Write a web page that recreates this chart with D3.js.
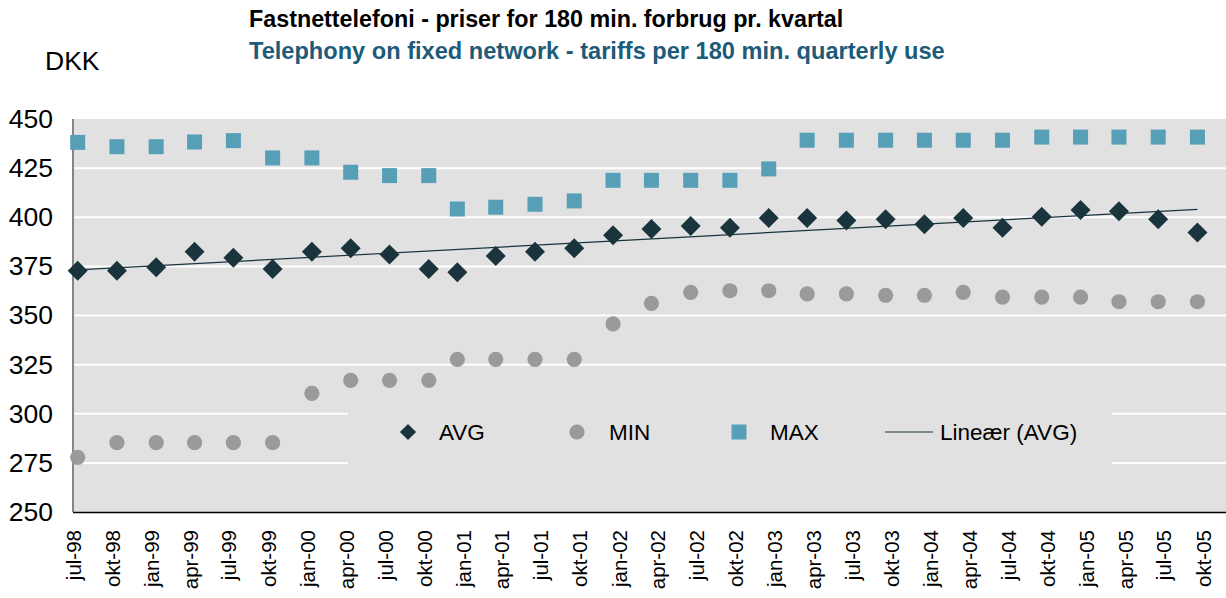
<!DOCTYPE html>
<meta charset="utf-8">
<head>
<style type='text/css'>
  body {
    margin: 0;
    background: #fff;
    font-family: 'Liberation Sans', Arial, sans-serif;
  }
  .grid line {
    stroke: #fff;
    stroke-width: 2;
  }
  .axis .domain {
    display: none;
  }
  .axis .tick line {
    display: none;
  }
</style>
</head>
<body>
<svg id="chart" width="1226" height="598"></svg>
<script src="https://d3js.org/d3.v7.min.js"></script>
<script>
// quarter labels on the x axis
var labels = ["jul-98", "okt-98", "jan-99", "apr-99", "jul-99", "okt-99", "jan-00", "apr-00", "jul-00", "okt-00",
  "jan-01", "apr-01", "jul-01", "okt-01", "jan-02", "apr-02", "jul-02", "okt-02", "jan-03", "apr-03",
  "jul-03", "okt-03", "jan-04", "apr-04", "jul-04", "okt-04", "jan-05", "apr-05", "jul-05", "okt-05"];

// dates the labels stand for
var tickDates = ["1998-07-01", "1998-10-01", "1999-01-01", "1999-04-01", "1999-07-01", "1999-10-01", "2000-01-01", "2000-04-01", "2000-07-01", "2000-10-01",
  "2001-01-01", "2001-04-01", "2001-07-01", "2001-10-01", "2002-01-01", "2002-04-01", "2002-07-01", "2002-10-01", "2003-01-01", "2003-04-01",
  "2003-07-01", "2003-10-01", "2004-01-01", "2004-04-01", "2004-07-01", "2004-10-01", "2005-01-01", "2005-04-01", "2005-07-01", "2005-10-01"];

// measurement dates of the points (date axis, not exactly on the quarters)
var pointDates = ["1998-07-12", "1998-10-12", "1999-01-12", "1999-04-12", "1999-07-12", "1999-10-12", "2000-01-12", "2000-04-12", "2000-07-12", "2000-10-12",
  "2000-12-18", "2001-03-18", "2001-06-18", "2001-09-18", "2001-12-18", "2002-03-18", "2002-06-18", "2002-09-18", "2002-12-18", "2003-03-18",
  "2003-06-18", "2003-09-18", "2003-12-18", "2004-03-18", "2004-06-18", "2004-09-18", "2004-12-18", "2005-03-18", "2005-06-18", "2005-09-18"];

var avgValues = [372.8, 372.8, 374.5, 382.5, 379.4, 373.7, 382.5, 384.2, 381, 373.7,
  372, 380.3, 382.5, 384.2, 390.8, 394, 395.5, 394.7, 399.6, 399.6,
  398.3, 399, 396.4, 399.6, 394.7, 400.3, 403.7, 403, 399, 392.3];

var minValues = [277.8, 285.3, 285.3, 285.3, 285.3, 285.3, 310.4, 317, 317, 317,
  327.7, 327.7, 327.7, 327.7, 345.7, 356.2, 361.8, 362.6, 362.6, 361,
  361, 360.3, 360.3, 361.8, 359.4, 359.4, 359.4, 357, 357, 357];

var maxValues = [438.1, 435.9, 435.9, 438.3, 439, 430.2, 430.2, 422.9, 421.2, 421.2,
  404.2, 405.1, 406.6, 408.3, 418.8, 418.8, 418.8, 418.8, 424.6, 439.2,
  439.2, 439.2, 439.2, 439.2, 439.2, 440.8, 440.8, 440.8, 440.8, 440.8];

var yTicks = [250, 275, 300, 325, 350, 375, 400, 425, 450];

var legendNames = ["AVG", "MIN", "MAX", "Lineær (AVG)"];

var parse = d3.timeParse("%Y-%m-%d");

var svg = d3.select("#chart");

var plot = {left: 73, right: 1226, top: 119, bottom: 512};

var x = d3.scaleTime()
    .domain([parse(tickDates[0]), parse(tickDates[tickDates.length - 1])])
    .range([73, 1203]);

var y = d3.scaleLinear()
    .domain([250, 450])
    .range([plot.bottom, plot.top]);

// titles
svg.append("text")
    .attr("x", 249).attr("y", 27)
    .attr("font-size", "23.3px").attr("font-weight", "bold")
    .attr("fill", "#000")
    .text("Fastnettelefoni - priser for 180 min. forbrug pr. kvartal");

svg.append("text")
    .attr("x", 249).attr("y", 59)
    .attr("font-size", "23.6px").attr("font-weight", "bold")
    .attr("fill", "#1d5b78")
    .text("Telephony on fixed network - tariffs per 180 min. quarterly use");

svg.append("text")
    .attr("x", 45).attr("y", 70)
    .attr("font-size", "26.5px")
    .attr("fill", "#000")
    .text("DKK");

// plot background
svg.append("rect")
    .attr("x", plot.left).attr("y", plot.top)
    .attr("width", plot.right - plot.left)
    .attr("height", plot.bottom - plot.top)
    .attr("fill", "#e1e1e1");

// horizontal gridlines
svg.append("g")
    .attr("class", "grid")
  .selectAll("line")
    .data(yTicks.slice(1, -1))
  .enter().append("line")
    .attr("x1", plot.left).attr("x2", plot.right)
    .attr("y1", function(d) { return y(d); })
    .attr("y2", function(d) { return y(d); });

// legend box covers the gridlines
var legendBox = svg.append("g");
legendBox.append("rect")
    .attr("x", 348).attr("y", 395)
    .attr("width", 1112 - 348).attr("height", 75)
    .attr("fill", "#e1e1e1");

// axis lines
svg.append("line")
    .attr("x1", plot.left).attr("x2", plot.left)
    .attr("y1", plot.top).attr("y2", plot.bottom)
    .attr("stroke", "#858585").attr("stroke-width", 2);

svg.append("line")
    .attr("x1", plot.left).attr("x2", plot.right)
    .attr("y1", plot.bottom + 0.5).attr("y2", plot.bottom + 0.5)
    .attr("stroke", "#000").attr("stroke-width", 1.5);

// y axis labels
svg.append("g")
    .attr("class", "axis")
    .attr("transform", "translate(" + (plot.left - 20) + ",0)")
    .call(d3.axisLeft(y).tickValues(yTicks).tickSize(0).tickPadding(0))
    .call(function(g) {
      g.selectAll("text")
        .attr("font-family", "'Liberation Sans', Arial, sans-serif")
        .attr("font-size", "26.5px")
        .attr("fill", "#000");
    });

// x axis labels, rotated
svg.append("g")
    .attr("class", "axis")
    .attr("transform", "translate(0," + plot.bottom + ")")
    .call(d3.axisBottom(x)
      .tickValues(tickDates.map(parse))
      .tickFormat(function(d, i) { return labels[i]; })
      .tickSize(0))
    .call(function(g) {
      g.selectAll("text")
        .attr("font-family", "'Liberation Sans', Arial, sans-serif")
        .attr("font-size", "20.5px")
        .attr("fill", "#000")
        .attr("text-anchor", "end")
        .attr("transform", "rotate(-90)")
        .attr("x", -18)
        .attr("y", 0)
        .attr("dy", "0.35em");
    });

// build rows
var rows = pointDates.map(function(d, i) {
  return {date: parse(d), avg: avgValues[i], min: minValues[i], max: maxValues[i]};
});

// linear trend on AVG (least squares against date)
var xs = rows.map(function(d) { return +d.date; });
var mx = d3.mean(xs), my = d3.mean(avgValues);
var sxy = 0, sxx = 0;
rows.forEach(function(d) {
  sxy += (+d.date - mx) * (d.avg - my);
  sxx += (+d.date - mx) * (+d.date - mx);
});
var slope = sxy / sxx, intercept = my - slope * mx;
var trendEnds = [rows[0].date, rows[rows.length - 1].date];

var colAvg = "#1a343d", colMin = "#9a9a9a", colMax = "#579fb6";

// MIN circles
svg.append("g")
  .selectAll("circle")
    .data(rows)
  .enter().append("circle")
    .attr("cx", function(d) { return x(d.date); })
    .attr("cy", function(d) { return y(d.min); })
    .attr("r", 7.6)
    .attr("fill", colMin);

// MAX squares
svg.append("g")
  .selectAll("rect")
    .data(rows)
  .enter().append("rect")
    .attr("x", function(d) { return x(d.date) - 7.5; })
    .attr("y", function(d) { return y(d.max) - 7.5; })
    .attr("width", 15).attr("height", 15)
    .attr("fill", colMax);

// AVG diamonds
var diamond = d3.symbol().type(d3.symbolSquare).size(200);
svg.append("g")
  .selectAll("path")
    .data(rows)
  .enter().append("path")
    .attr("d", diamond)
    .attr("transform", function(d) { return "translate(" + x(d.date) + "," + y(d.avg) + ") rotate(45)"; })
    .attr("fill", colAvg);

// trend line
svg.append("line")
    .attr("x1", x(trendEnds[0])).attr("x2", x(trendEnds[1]))
    .attr("y1", y(intercept + slope * +trendEnds[0]))
    .attr("y2", y(intercept + slope * +trendEnds[1]))
    .attr("stroke", "#1a343d").attr("stroke-width", 1.2);

// legend
var ly = 432;
legendBox.append("path")
    .attr("d", d3.symbol().type(d3.symbolSquare).size(130))
    .attr("transform", "translate(408," + ly + ") rotate(45)")
    .attr("fill", colAvg);
legendBox.append("circle")
    .attr("cx", 577).attr("cy", ly).attr("r", 7.6)
    .attr("fill", colMin);
legendBox.append("rect")
    .attr("x", 739 - 7.5).attr("y", ly - 7.5)
    .attr("width", 15).attr("height", 15)
    .attr("fill", colMax);
legendBox.append("line")
    .attr("x1", 885).attr("x2", 933)
    .attr("y1", ly).attr("y2", ly)
    .attr("stroke", "#1a343d").attr("stroke-width", 1.2);

var legendX = [439, 609, 770, 940];
legendBox.selectAll("text.leg")
    .data(legendNames)
  .enter().append("text")
    .attr("class", "leg")
    .attr("x", function(d, i) { return legendX[i]; })
    .attr("y", ly)
    .attr("dy", "0.35em")
    .attr("font-size", "22.5px")
    .attr("fill", "#000")
    .text(function(d) { return d; });
</script>
</body>
